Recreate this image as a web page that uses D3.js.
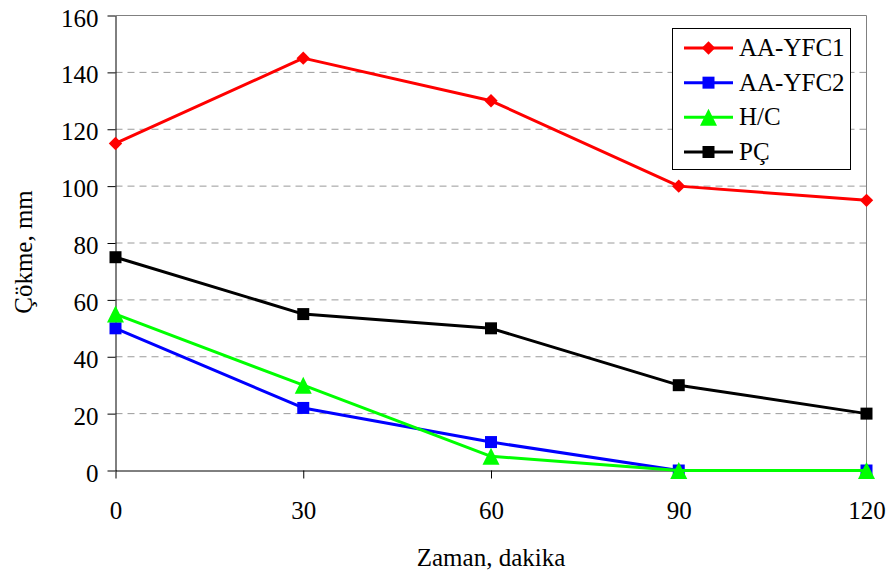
<!DOCTYPE html>
<html>
<head>
<meta charset="utf-8">
<script src="https://cdn.jsdelivr.net/npm/d3@7"></script>
<style>
  html, body { margin: 0; padding: 0; background: #fff; }
  svg { display: block; }
  text { font-family: "Liberation Serif", "Times New Roman", serif; fill: #000; }
</style>
</head>
<body>
<svg id="chart" width="892" height="573"></svg>
<script>
// Time points (minutes) and slump values (mm) for each mix
const times = [0, 30, 60, 90, 120];
const yTicks = [0, 20, 40, 60, 80, 100, 120, 140, 160];

const seriesNames = ["AA-YFC1", "AA-YFC2", "H/C", "PÇ"];
const aaYfc1 = [115, 145, 130, 100, 95];
const aaYfc2 = [50, 22, 10, 0, 0];
const hc = [55, 30, 5, 0, 0];
const pc = [75, 55, 50, 30, 20];

const seriesColors = ["#ff0000", "#0000ff", "#00ff00", "#000000"];
const seriesSymbols = ["diamond", "square", "triangle", "square"];

const xTitle = "Zaman, dakika";
const yTitle = "Çökme, mm";

const series = seriesNames.map((name, i) => ({
  name,
  values: [aaYfc1, aaYfc2, hc, pc][i].map((v, j) => ({ t: times[j], v })),
  color: seriesColors[i],
  symbol: seriesSymbols[i]
}));

const svg = d3.select("#chart");
const plotLeft = 115.5, plotRight = 866.5, plotTop = 15.5, plotBottom = 470.5;

const x = d3.scaleLinear().domain([0, 120]).range([plotLeft, plotRight]);
const y = d3.scaleLinear().domain([0, 160]).range([plotBottom, plotTop]);

// dashed horizontal gridlines
svg.append("g")
  .selectAll("line")
  .data(yTicks.filter(d => d > 0 && d < 160))
  .join("line")
  .attr("x1", plotLeft).attr("x2", plotRight)
  .attr("y1", d => y(d)).attr("y2", d => y(d))
  .attr("stroke", "#9a9a9a")
  .attr("stroke-width", 1)
  .attr("stroke-dasharray", "7,5");

// plot-area frame (top and right edges)
svg.append("path")
  .attr("d", `M${plotLeft},${plotTop}H${plotRight}V${plotBottom}`)
  .attr("fill", "none")
  .attr("stroke", "#808080")
  .attr("stroke-width", 1);

// y axis
const yAxis = svg.append("g")
  .attr("transform", `translate(${plotLeft},0)`)
  .call(d3.axisLeft(y).tickValues(yTicks).tickSize(8).tickPadding(0).tickSizeOuter(0));
yAxis.select(".domain").attr("stroke", "#000");
yAxis.selectAll(".tick line").attr("stroke", "#000");
yAxis.selectAll(".tick text")
  .attr("x", -17)
  .attr("dy", "10.5")
  .attr("font-size", 25)
  .attr("font-family", "Liberation Serif");

// x axis
const xAxis = svg.append("g")
  .attr("transform", `translate(0,${plotBottom})`)
  .call(d3.axisBottom(x).tickValues(times).tickSize(8).tickPadding(0).tickSizeOuter(0));
xAxis.select(".domain").attr("stroke", "#000");
xAxis.selectAll(".tick line").attr("stroke", "#000");
xAxis.selectAll(".tick text")
  .attr("y", 48)
  .attr("dy", 0)
  .attr("font-size", 25)
  .attr("font-family", "Liberation Serif");

// axis titles
svg.append("text")
  .attr("x", 491)
  .attr("y", 566)
  .attr("text-anchor", "middle")
  .attr("font-size", 25)
  .text(xTitle);

svg.append("text")
  .attr("transform", "translate(32,252) rotate(-90)")
  .attr("text-anchor", "middle")
  .attr("font-size", 25)
  .text(yTitle);

// marker shapes: upright triangle centred on its bounding box
const boxTriangle = {
  draw(context, size) {
    const h = Math.sqrt(size) / 2;
    context.moveTo(0, -h);
    context.lineTo(h, h);
    context.lineTo(-h, h);
    context.closePath();
  }
};
function symbolPath(kind) {
  if (kind === "diamond") return d3.symbol().type(d3.symbolSquare).size(90)();
  if (kind === "triangle") return d3.symbol().type(boxTriangle).size(289)();
  return d3.symbol().type(d3.symbolSquare).size(144)();
}
function symbolTransform(kind, px, py) {
  if (kind === "diamond") return `translate(${px},${py}) rotate(45)`;
  return `translate(${px},${py})`;
}

const line = d3.line().x(d => x(d.t)).y(d => y(d.v));

const seriesG = svg.append("g").selectAll("g")
  .data(series)
  .join("g");

seriesG.append("path")
  .attr("d", d => line(d.values))
  .attr("fill", "none")
  .attr("stroke", d => d.color)
  .attr("stroke-width", 3)
  .attr("stroke-linejoin", "round");

seriesG.each(function (s) {
  d3.select(this).selectAll("path.mark")
    .data(s.values)
    .join("path")
    .attr("class", "mark")
    .attr("d", symbolPath(s.symbol))
    .attr("transform", d => symbolTransform(s.symbol, x(d.t), y(d.v)))
    .attr("fill", s.color);
});

// legend
const legend = svg.append("g");
legend.append("rect")
  .attr("x", 672.5).attr("y", 28.5)
  .attr("width", 178).attr("height", 141)
  .attr("fill", "#fff")
  .attr("stroke", "#000")
  .attr("stroke-width", 1);

const rowY = d3.scalePoint().domain(seriesNames).range([48, 152]);

const items = legend.selectAll("g.item")
  .data(series)
  .join("g")
  .attr("class", "item");

items.append("line")
  .attr("x1", 684).attr("x2", 733)
  .attr("y1", d => rowY(d.name)).attr("y2", d => rowY(d.name))
  .attr("stroke", d => d.color)
  .attr("stroke-width", 3);

items.append("path")
  .attr("d", d => symbolPath(d.symbol))
  .attr("transform", d => symbolTransform(d.symbol, 708.5, rowY(d.name)))
  .attr("fill", d => d.color);

items.append("text")
  .attr("x", 739)
  .attr("y", d => rowY(d.name) + 8)
  .attr("font-size", 25)
  .text(d => d.name);
</script>
</body>
</html>
